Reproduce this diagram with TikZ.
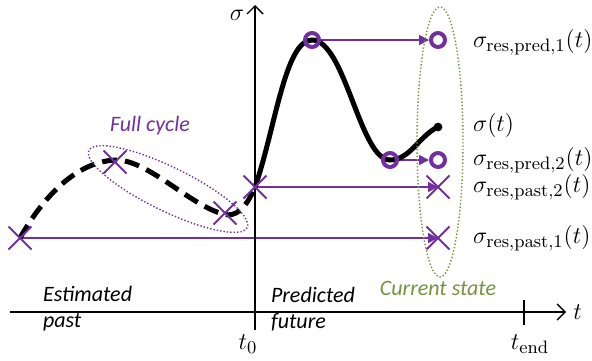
\documentclass[tikz,border=0pt]{standalone}
\usepackage[no-math]{fontspec}
\setmainfont{Carlito}
\usepackage{xcolor}
\usepackage{tikz}
\usetikzlibrary{positioning,shapes,shapes.misc,arrows.meta,calc,backgrounds}

\definecolor{cyclepurple}{RGB}{112,48,160}
\definecolor{stategreen}{RGB}{118,146,60}

\begin{document}
\begin{tikzpicture}[x=0.5pt,y=-0.5pt,
    pastmark/.style={draw=cyclepurple, cross out, line width=1pt, minimum size=10.5pt, inner sep=0pt},
    predmark/.style={draw=cyclepurple, circle, line width=2pt, minimum size=7pt, inner sep=0pt},
    shift arrow/.style={cyclepurple, line width=0.8pt, -{Triangle[length=5pt,width=5pt]}},
    axis arrow/.style={line width=0.7pt, -{Straight Barb[length=4pt,width=8pt]}},
    group/.style={line width=0.7pt, dash pattern=on 0.7pt off 1pt},
    note/.style={font=\itshape\fontsize{11}{13}\selectfont},
    mathlabel/.style={font=\fontsize{12.5}{15}\selectfont}]
    \useasboundingbox (0,0) rectangle (592,360);

    % axes
    \draw[axis arrow] (10,312) -- (566,312) node[right, mathlabel] (tlab) {$t$};
    \draw[axis arrow] (255,330) -- (255,5);
    \node[mathlabel] (sigmalab) at (237,15) {$\sigma$};
    \draw[line width=0.7pt] (524,300) -- (524,325);
    \node[mathlabel] (t0lab) at (248,344) {$t_0$};
    \node[mathlabel] (tendlab) at (530,344) {$t_{\mathrm{end}}$};

    % markers
    \node[pastmark] (past1) at (20,238) {};
    \node[pastmark] (top) at (115,162) {};
    \node[pastmark] (low) at (225,213) {};
    \node[pastmark] (past2) at (255,187) {};
    \node[predmark] (pred1) at (312,40) {};
    \node[predmark] (pred2) at (390,160) {};
    \node[predmark, fill=white] (res1) at (438,40) {};
    \node[predmark, fill=white] (res2) at (438,160) {};
    \node[pastmark] (res3) at (438,187) {};
    \node[pastmark] (res4) at (438,238) {};

    \begin{pgfonlayer}{background}
    % shifts to current state
    \draw[shift arrow] (past1.center) -- (res4.center);
    \draw[shift arrow] (past2.center) -- (res3.center);
    \draw[shift arrow] (pred1) -- (res1);
    \draw[shift arrow] (pred2) -- (res2);

    % stress history
    \draw[line width=2.5pt, dash pattern=on 7.5pt off 4pt] (past1.center) .. controls (50,185) and (85,160) .. (118,160)
        .. controls (150,162) and (190,205) .. (223,214) .. controls (236,218) and (246,208) .. (past2.center);
    \draw[line width=2.5pt] (past2.center) .. controls (275,130) and (285,40) .. (pred1.center)
        .. controls (345,40) and (360,160) .. (pred2.center) .. controls (410,160) and (420,135) .. (438,127) coordinate (now);
    \fill (now) circle (2.2pt);
    \end{pgfonlayer}

    % groups
    \draw[cyclepurple, group, rotate around={-26:(168,189)}] (168,189) ellipse [x radius=88, y radius=22];
    \draw[stategreen, group] (440,142) ellipse [x radius=23, y radius=135];
    \node[note, cyclepurple] (cyclelab) at (150,126) {Full cycle};
    \node[note, stategreen] (statelab) at (438,288) {Current state};
    \node[note, anchor=west, align=left] (pastlab) at (36,309) {Estimated\\past};
    \node[note, anchor=west, align=left] (futurelab) at (264,309) {Predicted\\future};

    % labels of current state
    \node[mathlabel, anchor=west] (lab1) at (466,42) {$\sigma_{\mathrm{res,pred,1}}(t)$};
    \node[mathlabel, anchor=west] (lab2) at (466,125) {$\sigma(t)$};
    \node[mathlabel, anchor=west] (lab3) at (466,160) {$\sigma_{\mathrm{res,pred,2}}(t)$};
    \node[mathlabel, anchor=west] (lab4) at (466,187) {$\sigma_{\mathrm{res,past,2}}(t)$};
    \node[mathlabel, anchor=west] (lab5) at (466,238) {$\sigma_{\mathrm{res,past,1}}(t)$};
\end{tikzpicture}
\end{document}
